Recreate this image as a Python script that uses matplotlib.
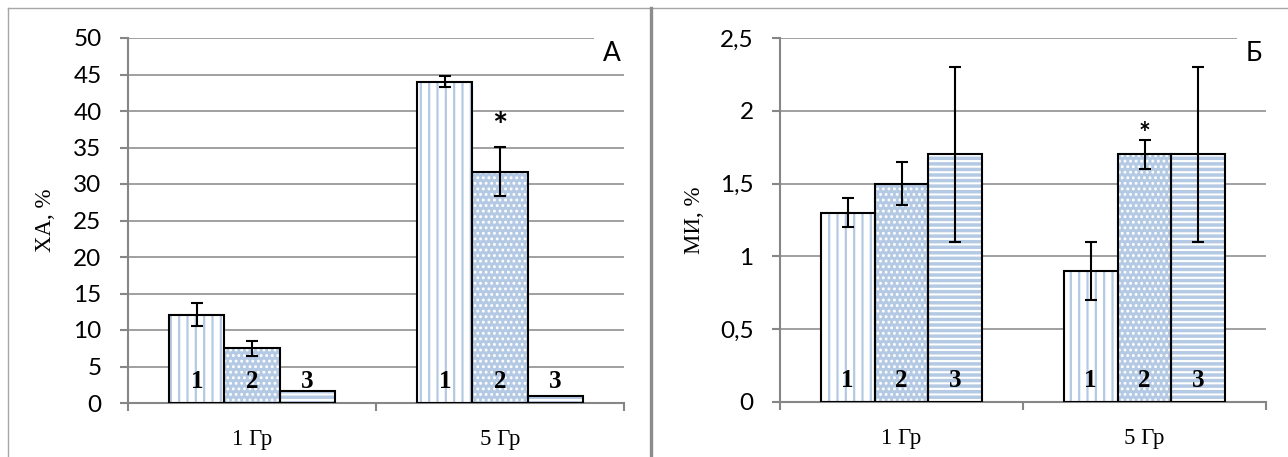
import matplotlib
matplotlib.use('Agg')
import matplotlib.pyplot as plt
from matplotlib.lines import Line2D
import numpy as np

groups = ['1 Гр', '5 Гр']
series_nums = ['1', '2', '3']

# panel A: ХА, %
xa_vals = [[12.1, 44.0], [7.5, 31.7], [1.6, 1.0]]
xa_errs = [[1.6, 0.75], [1.05, 3.4], None]
xa_star = (1, 1, 37.8)   # group, series, value

# panel Б: МИ, %
mi_vals = [[1.3, 0.9], [1.5, 1.7], [1.7, 1.7]]
mi_errs = [[0.1, 0.2], [0.15, 0.1], [0.6, 0.6]]
mi_star = (1, 1, 1.84)

xa_ticks = [0, 5, 10, 15, 20, 25, 30, 35, 40, 45, 50]
mi_ticks = [0, 0.5, 1, 1.5, 2, 2.5]

BLUE = '#b4c9e3'
GRID = '#868686'
SANS = ['Lato', 'DejaVu Sans']
SERIF = ['Liberation Serif', 'DejaVu Serif']

# fill color, hatch color, hatch, hatch linewidth
styles = [('white', BLUE, '||', 1.6),
          (BLUE, 'white', '...', 1.3),
          ('white', BLUE, '---', 2.5)]


def draw_panel(ax, vals, errs, star, ticks, ylabel, letter, fmt, star_size):
    x = np.arange(len(groups))
    w = 0.222
    for i, (fc, hc, hatch, hlw) in enumerate(styles):
        pos = x + (i - 1) * w
        with plt.rc_context({'hatch.linewidth': hlw}):
            b = ax.bar(pos, vals[i], w, color=fc, edgecolor=hc, hatch=hatch,
                       linewidth=0, zorder=2)
            for p in b:
                if hasattr(p, 'set_hatch_linewidth'):
                    p.set_hatch_linewidth(hlw)
        ax.bar(pos, vals[i], w, fill=False, edgecolor='black', linewidth=1.5, zorder=3)
        if errs[i] is not None:
            ax.errorbar(pos, vals[i], yerr=errs[i], fmt='none', ecolor='black',
                        elinewidth=1.5, capsize=4.3, capthick=1.5, zorder=4)
        for p in pos:
            ax.text(p, 0.058, series_nums[i], transform=ax.get_xaxis_transform(),
                    ha='center', va='center', fontsize=18, fontweight='bold',
                    family=SERIF, zorder=5)
    g, s, v = star
    ax.text(x[g] + (s - 1) * w, v, '*', ha='center', va='center',
            fontsize=star_size, fontweight='bold', family=SANS, zorder=5)

    ax.set_xlim(-0.5, 1.5)
    ax.set_ylim(ticks[0], ticks[-1])
    ax.set_yticks(ticks)
    ax.set_yticklabels([fmt(t) for t in ticks], family=SANS, fontsize=17.5)
    ax.set_xticks([-0.5, 0.5, 1.5])
    ax.set_xticklabels([])
    ax.set_xticks([0, 1], minor=True)
    ax.set_xticklabels(groups, minor=True, family=SERIF, fontsize=16.5)
    ax.tick_params(axis='x', which='major', direction='out', length=6, width=1.5, color=GRID)
    ax.tick_params(axis='x', which='minor', length=0, pad=19)
    ax.tick_params(axis='y', direction='out', length=6, width=1.5, color=GRID, pad=13)
    ax.yaxis.grid(True, color=GRID, linewidth=1.1)
    ax.set_axisbelow(True)
    for side in ['top', 'right']:
        ax.spines[side].set_visible(False)
    for side in ['left', 'bottom']:
        ax.spines[side].set_color(GRID)
        ax.spines[side].set_linewidth(1.5)
    ax.set_ylabel(ylabel, family=SERIF, fontsize=16.5)
    ax.yaxis.set_label_coords(-0.145, 0.5)
    ax.text(0.975, 0.958, letter, transform=ax.transAxes, ha='center', va='center',
            fontsize=19, family=SANS, zorder=6,
            bbox=dict(facecolor='white', edgecolor='none', pad=6))


fig = plt.figure(figsize=(12.88, 4.57), dpi=100)
ax1 = fig.add_axes([128 / 1288, 54 / 457, 496 / 1288, 365 / 457])
ax2 = fig.add_axes([780 / 1288, 55 / 457, 486 / 1288, 364 / 457])

draw_panel(ax1, xa_vals, xa_errs, xa_star, xa_ticks, 'ХА, %', 'А',
           lambda t: '%d' % t, 26)
draw_panel(ax2, mi_vals, mi_errs, mi_star, mi_ticks, 'МИ, %', 'Б',
           lambda t: ('%g' % t).replace('.', ','), 20)
ax2.yaxis.set_label_coords(-0.155, 0.5)

# panel frames
fig.add_artist(Line2D([8 / 1288, 8 / 1288], [0, 449 / 457], color='#a6a6a6', linewidth=1))
fig.add_artist(Line2D([8 / 1288, 1], [449 / 457, 449 / 457], color='#a6a6a6', linewidth=1))
fig.add_artist(Line2D([651 / 1288, 651 / 1288], [0, 449 / 457], color='#8c8c8c', linewidth=2.4))

fig.savefig('out.png', dpi=100)
